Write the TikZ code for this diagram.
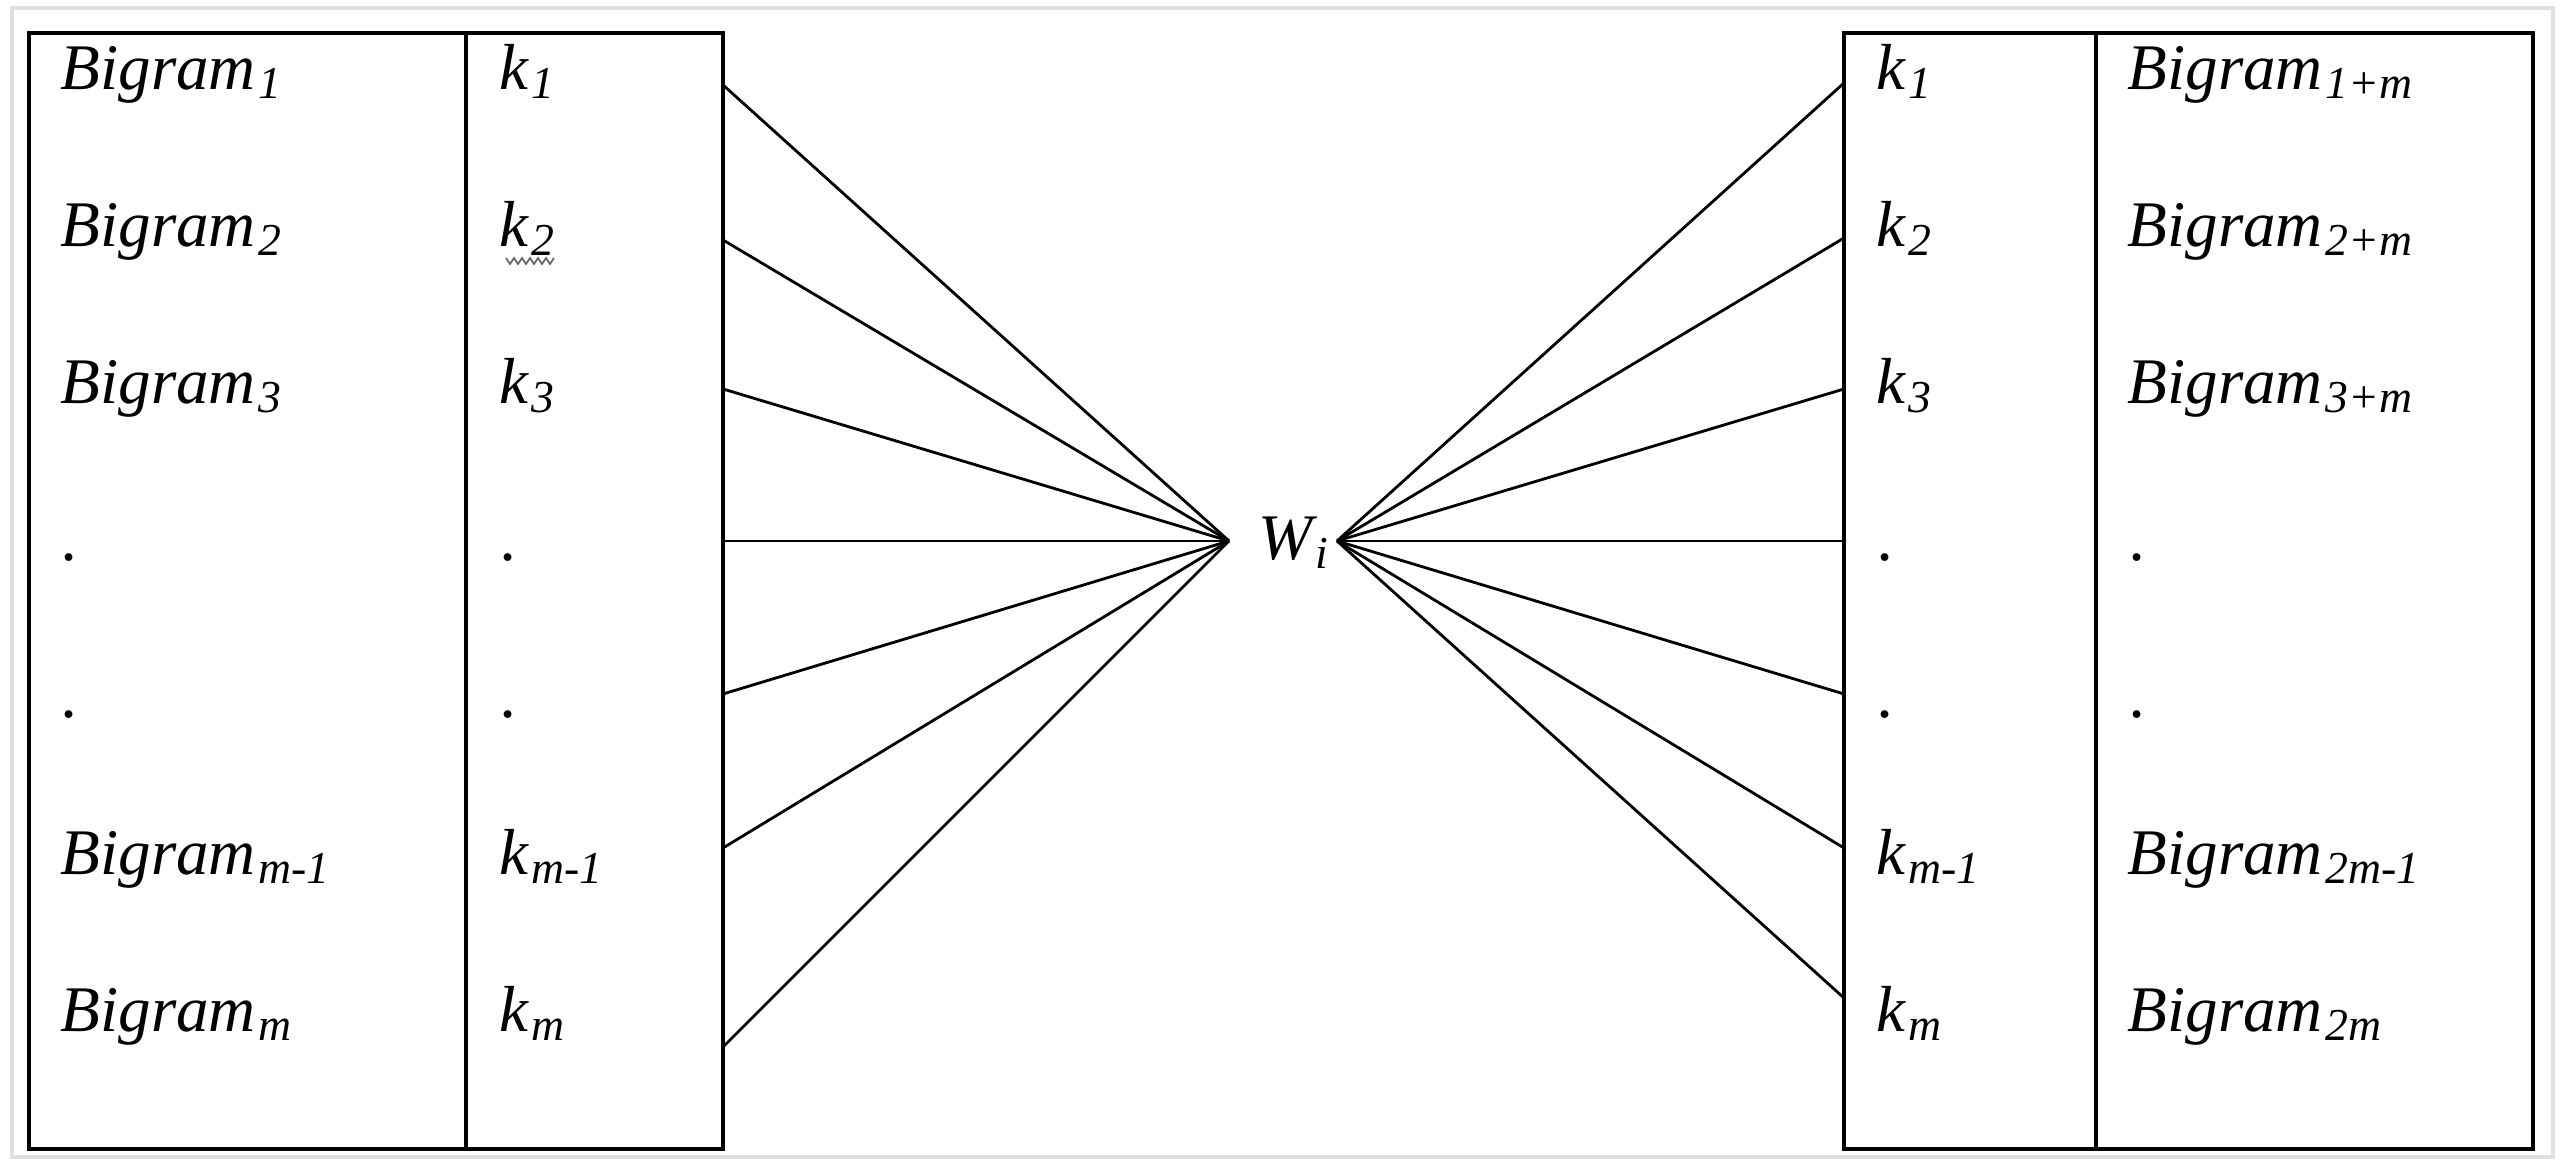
\documentclass[tikz,border=0pt]{standalone}
\usepackage{fontspec}
\setmainfont{Liberation Serif}
\newcommand\subx[1]{\kern0.8pt\raisebox{-2.4pt}{\fontsize{13}{13}\selectfont #1}}
\begin{document}
\begin{tikzpicture}[x=0.01cm,y=-0.01cm,
  lbl/.style={anchor=base west, inner sep=0pt, font=\fontsize{18.5}{20}\selectfont\itshape},
  frame/.style={line width=1.1pt},
  link/.style={line width=0.8pt}]
\useasboundingbox (0,0) rectangle (2566,1165);
\draw[black!12, line width=1pt] (12,8) rectangle (2553,1157);
% boxes
\draw[frame] (29,33) rectangle (723,1149);
\draw[frame] (466,33) -- (466,1149);
\draw[frame] (1844,33) rectangle (2533,1149);
\draw[frame] (2096,33) -- (2096,1149);
% left labels
\node[lbl] (b1) at (60,90) {Bigram\subx{1}};
\node[lbl] (b2) at (60,247) {Bigram\subx{2}};
\node[lbl] (b3) at (60,404) {Bigram\subx{3}};
\node[lbl] (bd1) at (62,561) {.};
\node[lbl] (bd2) at (62,718) {.};
\node[lbl] (bm1) at (60,875) {Bigram\subx{m-1}};
\node[lbl] (bm) at (60,1032) {Bigram\subx{m}};
\node[lbl] (k1) at (499,90) {k\subx{1}};
\node[lbl] (k2) at (499,247) {k\subx{2}};
\node[lbl] (k3) at (499,404) {k\subx{3}};
\node[lbl] (kd1) at (501,561) {.};
\node[lbl] (kd2) at (501,718) {.};
\node[lbl] (km1) at (499,875) {k\subx{m-1}};
\node[lbl] (km) at (499,1032) {k\subx{m}};
% spell-check squiggle under k2
\draw[black!60, line width=0.5pt] (506,258) -- (510,264) -- (514,258) -- (518,264) -- (522,258) -- (526,264) -- (530,258) -- (534,264) -- (538,258) -- (542,264) -- (546,258) -- (550,264) -- (554,258);
% right labels
\node[lbl] (rk1) at (1876,90) {k\subx{1}};
\node[lbl] (rk2) at (1876,247) {k\subx{2}};
\node[lbl] (rk3) at (1876,404) {k\subx{3}};
\node[lbl] (rkd1) at (1878,561) {.};
\node[lbl] (rkd2) at (1878,718) {.};
\node[lbl] (rkm1) at (1876,875) {k\subx{m-1}};
\node[lbl] (rkm) at (1876,1032) {k\subx{m}};
\node[lbl] (rb1) at (2127,90) {Bigram\subx{1+m}};
\node[lbl] (rb2) at (2127,247) {Bigram\subx{2+m}};
\node[lbl] (rb3) at (2127,404) {Bigram\subx{3+m}};
\node[lbl] (rbd1) at (2130,561) {.};
\node[lbl] (rbd2) at (2130,718) {.};
\node[lbl] (rbm1) at (2127,875) {Bigram\subx{2m-1}};
\node[lbl] (rbm) at (2127,1032) {Bigram\subx{2m}};
% centre
\node[lbl] (w) at (1258,560) {W\subx{i}};
\coordinate (wl) at (1229,541);
\coordinate (wr) at (1337,541);
% endpoints
\coordinate (l1) at (723,85);
\coordinate (l2) at (723,240);
\coordinate (l3) at (723,389);
\coordinate (l4) at (723,541);
\coordinate (l5) at (723,694);
\coordinate (l6) at (723,848);
\coordinate (l7) at (723,1047);
\coordinate (r1) at (1844,83);
\coordinate (r2) at (1844,238);
\coordinate (r3) at (1844,389);
\coordinate (r4) at (1844,541);
\coordinate (r5) at (1844,694);
\coordinate (r6) at (1844,848);
\coordinate (r7) at (1844,998);
\foreach \i in {1,...,7} {
  \draw[link] (l\i) -- (wl);
  \draw[link] (r\i) -- (wr);
}
\end{tikzpicture}
\end{document}
